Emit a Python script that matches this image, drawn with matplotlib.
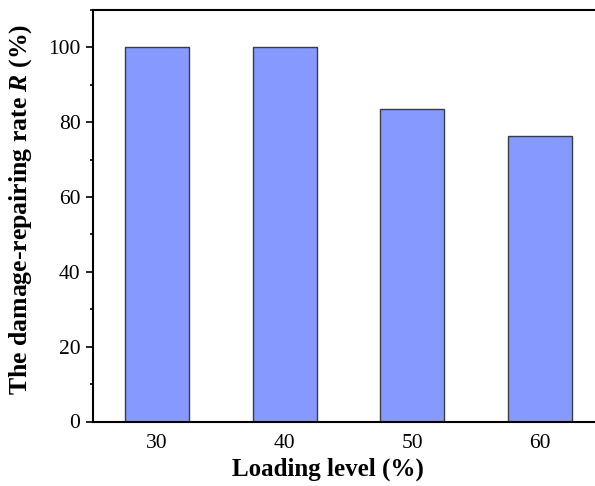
import matplotlib
matplotlib.use('Agg')
import matplotlib.pyplot as plt
from matplotlib.ticker import MultipleLocator

plt.rcParams['font.family'] = ['Liberation Serif', 'DejaVu Serif']
plt.rcParams['mathtext.fontset'] = 'custom'
plt.rcParams['mathtext.rm'] = 'Liberation Serif:bold'
plt.rcParams['mathtext.bf'] = 'Liberation Serif:bold'
plt.rcParams['mathtext.it'] = 'Liberation Serif:italic:bold'
plt.rcParams['mathtext.bfit'] = 'Liberation Serif:italic:bold'

loading = [30, 40, 50, 60]
rate = [100, 100, 83.5, 76.2]
yticks = [0, 20, 40, 60, 80, 100]

fig = plt.figure(figsize=(5.95, 4.86), dpi=100)
ax = fig.add_axes([93/595, 1 - 421.5/486, 1 - 93/595, (421.5 - 10)/486])

ax.bar(loading, rate, width=5, color='#8599ff', edgecolor='#3c3c3c', linewidth=1.0)

ax.set_xlim(25, 64.3)
ax.set_ylim(0, 110)
ax.set_xticks(loading)
ax.set_yticks(yticks)
ax.yaxis.set_minor_locator(MultipleLocator(10))

for s in ['left', 'bottom', 'top']:
    ax.spines[s].set_linewidth(1.5)
ax.spines['right'].set_visible(False)

ax.tick_params(axis='x', length=0, pad=9, labelsize=15.5)
ax.tick_params(axis='y', which='major', length=5, width=1.2, pad=4, labelsize=15.5)
ax.tick_params(axis='y', which='minor', length=2.5, width=1.2)

ax.set_xlabel('Loading level (%)', fontsize=18, fontweight='bold')
ax.set_ylabel(r'The damage-repairing rate $\mathit{R}$ (%)', fontsize=18.5, fontweight='bold')
ax.xaxis.set_label_coords((328 - 93) / (595 - 93), -(458 - 421.5) / 411.5)
ax.yaxis.set_label_coords(-(93 - 34) / (595 - 93), (421.5 - 209) / 411.5)

fig.savefig('out.png', dpi=100)
